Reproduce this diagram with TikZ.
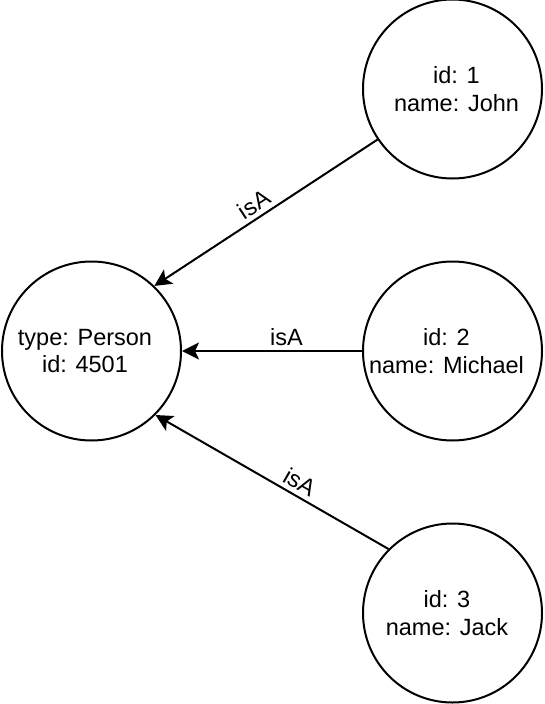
\documentclass[tikz,border=0pt]{standalone}
\usepackage{fontspec}
\setmainfont{Liberation Sans}
\usetikzlibrary{arrows.meta,positioning}

\begin{document}
\begin{tikzpicture}[
  x=1pt, y=-1pt,
  node distance=80pt,
  ent/.style={draw, circle, line width=2pt, minimum size=179pt, inner sep=0pt},
  txt/.style={align=center, font=\fontsize{23.5}{27.5}\selectfont},
  ar/.style={-{Stealth[length=17pt, width=17pt, inset=4pt]}, line width=2pt},
  rel/.style={sloped, above, inner sep=4pt, font=\fontsize{23.5}{27.5}\selectfont}]

\useasboundingbox (0,0) rectangle (544,704);

\node[ent, label={[txt, xshift=-6.5pt]center:{type: Person\\id: 4501}}] (person) at (91.5,351) {};
\node[ent, right=180pt of person, label={[txt, xshift=-6pt]center:{id: 2\\name: Michael}}] (michael) {};
\node[ent, above=81pt of michael, label={[txt, xshift=4pt]center:{id: 1\\name: John}}] (john) {};
\node[ent, below=81pt of michael, label={[txt, xshift=-5.5pt]center:{id: 3\\name: Jack}}] (jack) {};

\draw[ar] (john.214) -- node[rel, pos=0.52] (r1) {isA} (person.46);
\draw[ar] (michael.west) -- node[rel, pos=0.42] (r2) {isA} (person.east);
\draw[ar] (jack.135) -- node[rel, pos=0.41] (r3) {isA} (person.-45);
\end{tikzpicture}
\end{document}
